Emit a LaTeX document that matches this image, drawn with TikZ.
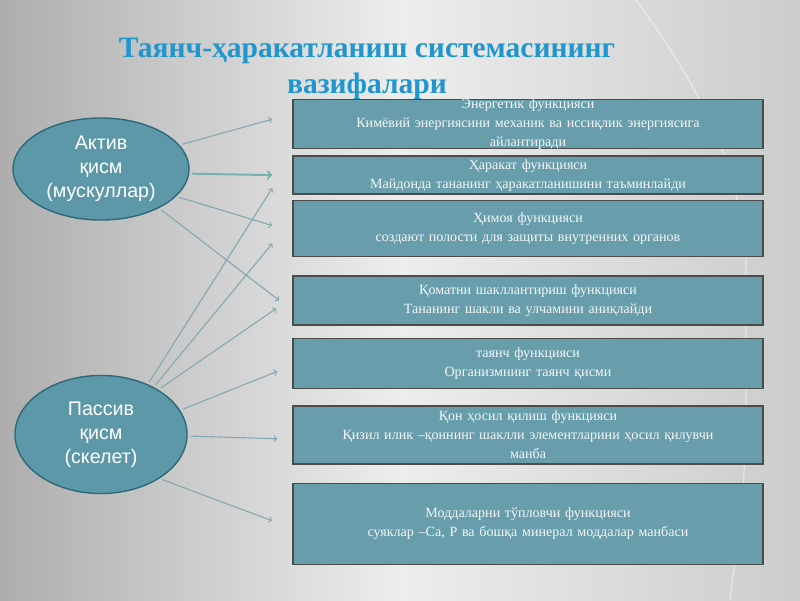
\documentclass[tikz,border=0pt]{standalone}
\usepackage{fontspec}
\setmainfont{Liberation Serif}
\setsansfont{Liberation Sans}
\usetikzlibrary{shapes.geometric, arrows, positioning, calc}
\definecolor{titleblue}{RGB}{32,150,205}
\definecolor{boxteal}{RGB}{104,157,172}
\definecolor{partteal}{RGB}{92,152,168}
\definecolor{partedge}{RGB}{45,105,120}
\definecolor{linkgray}{RGB}{135,168,178}
\definecolor{linkgreen}{RGB}{115,180,170}
\tikzset{
    func/.style = {rectangle, draw=black!70, line width=1pt, fill=boxteal, text=white!92!boxteal, text width=11.5cm, align=center, minimum width=11.75cm, inner sep=1pt, font=\fontsize{10}{13.5}\selectfont},
    part/.style = {ellipse, draw=partedge, line width=1pt, fill=partteal, text=white, align=center, inner sep=0pt, font=\sffamily\fontsize{14}{17}\selectfont},
    link/.style = {draw=linkgray, ->, line width=0.8pt, shorten <=2pt}
}

\begin{document}
\begin{tikzpicture}[
        x=0.025cm, y=-0.025cm,
        % STYLES
        title/.style = {font=\bfseries\fontsize{21}{25}\selectfont, text=titleblue, align=center},
        mainlink/.style = {draw=linkgreen, ->, line width=1.4pt, shorten <=2pt}
    ]
        % --- BACKGROUND ---
        \useasboundingbox (0,0) rectangle (800,600);
        \shade[left color=black!32, right color=black!20, middle color=black!7] (0,0) rectangle (800,600);
        \draw[white, opacity=0.5, line width=0.8pt] (636,0) .. controls (680,60) and (740,150) .. (746,260) -- (746,420) .. controls (745,500) and (735,560) .. (730,600);

        % --- NODES ---
        \node [title] (title) at (367,69) {Таянч-ҳаракатланиш системасининг\\вазифалари};

        % Functions column
        \node [func, minimum height=1.225cm, inner ysep=-1pt, anchor=north] (energy) at (528,99) {Энергетик функцияси\\Кимёвий энергиясини механик ва иссиқлик энергиясига\\айлантиради};
        \node [func, below=0.15cm of energy, minimum height=0.95cm] (motion) {Ҳаракат функцияси\\Майдонда тананинг ҳаракатланишини таъминлайди};
        \node [func, below=0.125cm of motion, minimum height=1.4cm] (protect) {Ҳимоя функцияси\\создают полости для защиты внутренних органов};
        \node [func, below=0.45cm of protect, minimum height=1.225cm] (shape) {Қоматни шакллантириш функцияси\\Тананинг шакли ва улчамини аниқлайди};
        \node [func, below=0.3cm of shape, minimum height=1.25cm] (support) {таянч функцияси\\Организмнинг таянч қисми};
        \node [func, below=0.4cm of support, minimum height=1.45cm] (blood) {Қон ҳосил қилиш функцияси\\Қизил илик –қоннинг шаклли элементларини ҳосил қилувчи\\манба};
        \node [func, below=0.45cm of blood, minimum height=2.025cm] (store) {Моддаларни тўпловчи функцияси\\суяклар –Ca, P ва бошқа минерал моддалар манбаси};

        % Parts
        \node [part, minimum width=4.4cm, minimum height=2.55cm] (active) at (101,169) {Актив\\қисм\\(мускуллар)};
        \node [part, below=3.85cm of active, minimum width=4.3cm, minimum height=2.95cm] (passive) {Пассив\\қисм\\(скелет)};

        % --- PATHS ---
        % Active part
        \path [link] (active.17) -- ([shift={(-20,-5)}]energy.west);
        \path [mainlink] (active.-3) -- ([shift={(-20,0)}]motion.west);
        \path [link] (active.-20) -- ([shift={(-20,-3)}]protect.west);
        \path [link] (active.-34) -- ([shift={(-13,0)}]shape.west);

        % Passive part
        \path [link] (passive.47) -- ([shift={(-20,13)}]motion.west);
        \path [link] (passive.42) -- ([shift={(-20,15)}]protect.west);
        \path [link] (passive.38) -- ([shift={(-16,8)}]shape.west);
        \path [link] (passive.17) -- ([shift={(-15,8)}]support.west);
        \path [link] (passive.-1) -- ([shift={(-15,4)}]blood.west);
        \path [link] (passive.-37) -- ([shift={(-20,-3)}]store.west);

    \end{tikzpicture}
\end{document}
